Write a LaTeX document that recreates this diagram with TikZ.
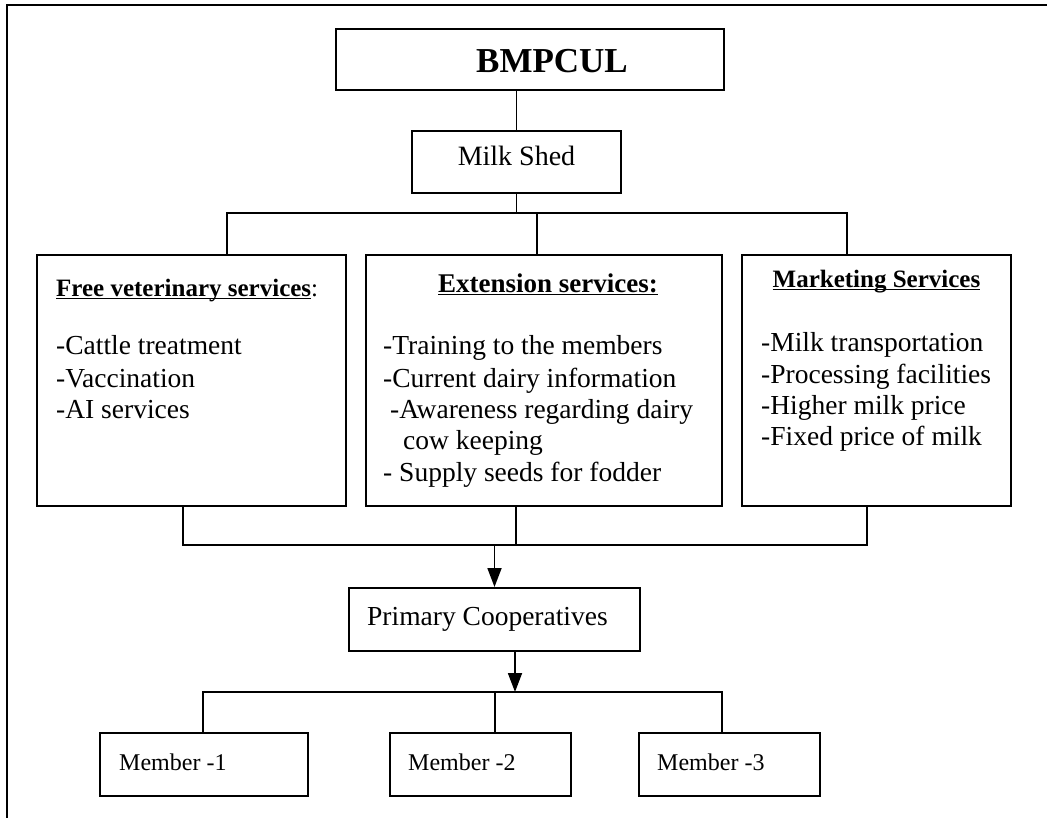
\documentclass[tikz,border=0pt]{standalone}
\usepackage{fontspec}
\setmainfont{Liberation Serif}
\usetikzlibrary{arrows.meta}
\newcommand\myItemFont{\fontsize{27.5}{31}\selectfont}
\newcommand\myHeadFont{\fontsize{25}{29}\selectfont\bfseries}
\newcommand\myHeadBigFont{\fontsize{27}{31}\selectfont\bfseries}
\newcommand\myMemberFont{\fontsize{24}{28}\selectfont}
\begin{document}
\begin{tikzpicture}[x=1pt,y=-1pt,
  box/.style={draw, line width=2pt, inner sep=0pt},
  conn/.style={line width=1.8pt},
  txt/.style={inner sep=0pt, anchor=base west},
  ctxt/.style={inner sep=0pt, anchor=base},
  arr/.style={conn, -{Triangle[length=19pt,width=14pt]}}
]
\useasboundingbox[fill=white] (0,0) rectangle (1047,818);
\draw[line width=1.2pt] (7,818) -- (7,5) -- (1047,5);

% boxes
\node[box, minimum width=388pt, minimum height=61pt] (bm) at (530,59.5) {};
\node[box, minimum width=209pt, minimum height=62pt] (ms) at (516.5,162) {};
\node[box, minimum width=309pt, minimum height=251pt] (b1) at (191.5,380.5) {};
\node[box, minimum width=356pt, minimum height=251pt] (b2) at (544,380.5) {};
\node[box, minimum width=269pt, minimum height=251pt] (b3) at (876.5,380.5) {};
\node[box, minimum width=291pt, minimum height=63pt] (pc) at (494.5,619.5) {};
\node[box, minimum width=208pt, minimum height=63pt] (m1) at (204,764.5) {};
\node[box, minimum width=181pt, minimum height=63pt] (m2) at (480.5,764.5) {};
\node[box, minimum width=181pt, minimum height=63pt] (m3) at (729.5,764.5) {};

% texts
\node[ctxt] (tbm) at (552,73) {\fontsize{35}{40}\selectfont\bfseries BMPCUL};
\node[ctxt] (tms) at (516.5,166) {\fontsize{28}{32}\selectfont Milk Shed};

\node[txt] (t1h) at (56,297) {\myHeadFont\underline{\smash{Free veterinary services}}\mdseries:};
\node[txt] (t1a) at (56,355) {\myItemFont -Cattle treatment};
\node[txt] (t1b) at (56,387) {\myItemFont -Vaccination};
\node[txt] (t1c) at (56,418) {\myItemFont -AI services};

\node[ctxt] (t2h) at (548,293) {\myHeadBigFont\underline{\smash{Extension services:}}};
\node[txt] (t2a) at (383,355) {\myItemFont -Training to the members};
\node[txt] (t2b) at (383,387) {\myItemFont -Current dairy information};
\node[txt] (t2c) at (390,418) {\myItemFont -Awareness regarding dairy};
\node[txt] (t2d) at (403,449) {\myItemFont cow keeping};
\node[txt] (t2e) at (383,481) {\myItemFont - Supply seeds for fodder};

\node[ctxt] (t3h) at (876.5,288) {\myHeadFont\underline{\smash{Marketing Services}}};
\node[txt] (t3a) at (761,352) {\myItemFont -Milk transportation};
\node[txt] (t3b) at (761,383) {\myItemFont -Processing facilities};
\node[txt] (t3c) at (761,414) {\myItemFont -Higher milk price};
\node[txt] (t3d) at (761,445) {\myItemFont -Fixed price of milk};

\node[txt] (tpc) at (367,625) {\myItemFont Primary Cooperatives};
\node[txt] (tm1) at (119,770) {\myMemberFont Member -1};
\node[txt] (tm2) at (408,770) {\myMemberFont Member -2};
\node[txt] (tm3) at (657,770) {\myMemberFont Member -3};

% connectors
\draw[conn] (ms.north) -- (ms.north |- bm.south);
\coordinate (ha) at (227,213);
\coordinate (hb) at (537,213);
\coordinate (hc) at (847,213);
\draw[conn] (ms.south) -- (ms.south |- ha);
\draw[conn] (b1.north -| ha) -- (ha) -- (hc) -- (b3.north -| hc);
\draw[conn] (hb) -- (b2.north -| hb);

\coordinate (la) at (183,545);
\coordinate (lb) at (516,545);
\coordinate (lc) at (867,545);
\draw[conn] (b1.south -| la) -- (la) -- (lc) -- (b3.south -| lc);
\draw[conn] (b2.south -| lb) -- (lb);
\draw[arr] (pc.north |- la) -- (pc.north);

\coordinate (ka) at (203,692);
\coordinate (kb) at (495,692);
\coordinate (kc) at (722,692);
\coordinate (kd) at (515,692);
\draw[arr] (pc.south -| kd) -- (kd);
\draw[conn] (m1.north -| ka) -- (ka) -- (kc) -- (m3.north -| kc);
\draw[conn] (kb) -- (m2.north -| kb);
\end{tikzpicture}
\end{document}
